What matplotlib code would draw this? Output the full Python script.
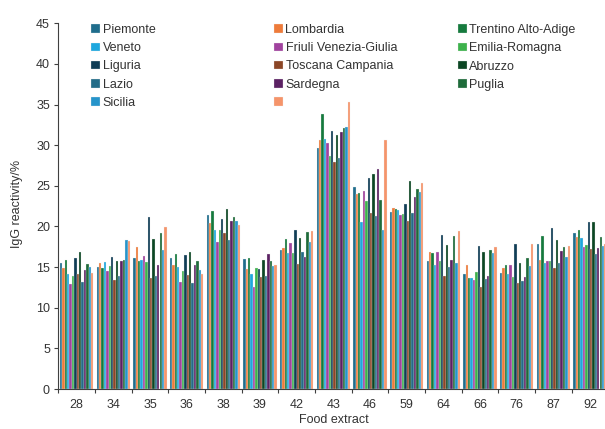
import numpy as np
import matplotlib
matplotlib.use('Agg')
import matplotlib.pyplot as plt

plt.rcParams['font.family'] = ['Liberation Sans', 'DejaVu Sans']

# =====================================================================
# Data
# =====================================================================
extracts = ['28', '34', '35', '36', '38', '39', '42', '43', '46', '59', '64', '66', '76', '87', '92']

regions = ['Piemonte', 'Lombardia', 'Trentino Alto-Adige',
           'Veneto', 'Friuli Venezia-Giulia', 'Emilia-Romagna',
           'Liguria', 'Toscana Campania', 'Abruzzo',
           'Lazio', 'Sardegna', 'Puglia',
           'Sicilia', '']

colors = ['#1f6d8c', '#ee7b3a', '#157a3d',
          '#1ea7de', '#a0429e', '#3db24c',
          '#103d56', '#8b4626', '#0c4724',
          '#236c88', '#5b2163', '#1e6b3a',
          '#2694ca', '#f5946a']

# one list per region, one value per food extract (IgG reactivity, %)
piemonte  = [15.5, 15.0, 16.1, 16.1, 21.4, 16.0, 17.1, 29.6, 24.8, 21.8, 15.7, 14.1, 14.3, 17.8, 19.2]
lombardia = [14.9, 15.5, 17.5, 15.3, 20.4, 14.8, 17.3, 30.6, 24.0, 22.3, 16.8, 15.2, 14.9, 15.9, 18.7]
trentino  = [15.9, 14.9, 15.8, 16.6, 21.9, 16.1, 18.5, 33.9, 24.1, 22.2, 16.7, 13.7, 15.2, 18.8, 19.6]
veneto    = [14.1, 15.6, 15.9, 15.0, 19.6, 14.2, 16.7, 30.8, 20.5, 22.0, 15.3, 13.7, 14.1, 15.5, 18.6]
friuli    = [12.9, 14.5, 16.4, 13.2, 18.1, 12.6, 18.0, 30.3, 24.4, 21.4, 16.8, 13.4, 15.3, 15.7, 17.5]
emilia    = [13.9, 15.1, 15.6, 14.5, 19.6, 14.9, 16.7, 28.7, 23.1, 21.5, 15.7, 14.4, 13.8, 15.8, 17.7]
liguria   = [16.1, 16.3, 21.2, 16.5, 20.9, 14.8, 19.6, 31.7, 26.0, 22.8, 19.0, 17.6, 17.8, 19.8, 20.5]
toscana   = [14.1, 13.4, 13.7, 14.0, 19.2, 13.8, 15.4, 27.9, 21.7, 20.7, 13.9, 12.5, 13.1, 14.9, 17.2]
abruzzo   = [16.8, 15.8, 18.5, 16.8, 22.1, 15.9, 18.6, 31.2, 26.4, 25.6, 17.7, 16.8, 15.5, 18.3, 20.5]
lazio     = [13.2, 13.9, 13.9, 13.0, 18.3, 13.9, 16.8, 28.4, 21.3, 21.7, 15.0, 13.5, 13.3, 15.5, 16.6]
sardegna  = [14.7, 15.8, 15.2, 15.3, 20.7, 16.6, 16.2, 31.6, 27.1, 23.6, 15.9, 13.9, 13.8, 17.0, 17.3]
puglia    = [15.4, 15.9, 19.2, 15.8, 21.2, 15.7, 19.3, 32.1, 23.2, 24.6, 18.8, 17.1, 16.1, 17.5, 18.7]
sicilia   = [15.0, 18.3, 17.1, 14.6, 20.7, 15.1, 18.1, 32.2, 19.6, 24.3, 15.5, 16.7, 15.1, 16.2, 17.6]
unnamed   = [14.3, 18.2, 19.9, 14.1, 20.2, 15.3, 19.5, 35.3, 30.6, 25.4, 19.5, 17.5, 17.9, 17.6, 17.8]

series = [piemonte, lombardia, trentino, veneto, friuli, emilia, liguria,
          toscana, abruzzo, lazio, sardegna, puglia, sicilia, unnamed]

FS = 9

# =====================================================================
# Plot
# =====================================================================
fig = plt.figure(figsize=(6.05, 4.29), dpi=100)
ax = fig.add_axes([58.3 / 605, 40 / 429, 550 / 605, 365.7 / 429])

x = np.arange(len(extracts))
bar_w = 0.065
n = len(series)
handles = []
for i, (vals, col) in enumerate(zip(series, colors)):
    offs = -n * bar_w / 2 + bar_w * (i + 0.5)
    h = ax.bar(x + offs, vals, width=bar_w, color=col, edgecolor='#f0f0f0', linewidth=0.2)
    handles.append(h)

ax.set_xlim(-0.5, len(extracts) - 0.5)
ax.set_ylim(0, 45)
ax.set_yticks(np.arange(0, 46, 5))

ax.set_xticks(x)
ax.set_xticklabels(extracts)
ax.set_xticks(np.arange(-0.5, len(extracts), 1.0), minor=True)
ax.tick_params(axis='x', which='major', length=0, pad=7, labelsize=FS, labelcolor='#333333')
ax.tick_params(axis='x', which='minor', length=3, width=0.8, color='#404040', direction='out')
ax.tick_params(axis='y', length=3, width=0.8, color='#404040', pad=3, labelsize=FS, labelcolor='#333333')

for s in ['top', 'right']:
    ax.spines[s].set_visible(False)
for s in ['left', 'bottom']:
    ax.spines[s].set_color('#404040')
    ax.spines[s].set_linewidth(0.8)

fig.text(17 / 605, 1 - 204 / 429, 'IgG reactivity/%', rotation=90, ha='center', va='center',
         fontsize=FS, color='#333333')
fig.text(334 / 605, 1 - 420 / 429, 'Food extract', ha='center', va='center',
         fontsize=FS, color='#333333')

# Legend: three columns laid out row by row, as in the reference
col_x = [91, 274, 457.7]
for c in range(3):
    idx = list(range(c, n, 3))
    leg = fig.legend([handles[k] for k in idx], [regions[k] for k in idx],
                     loc='upper left', bbox_to_anchor=(col_x[c] / 605, 1 - 24 / 429),
                     frameon=False, fontsize=FS, borderpad=0, borderaxespad=0,
                     handlelength=0.72, handleheight=0.65, handletextpad=0.2,
                     labelspacing=0.5)
    for t in leg.get_texts():
        t.set_color('#333333')

fig.savefig('out.png', dpi=100)
